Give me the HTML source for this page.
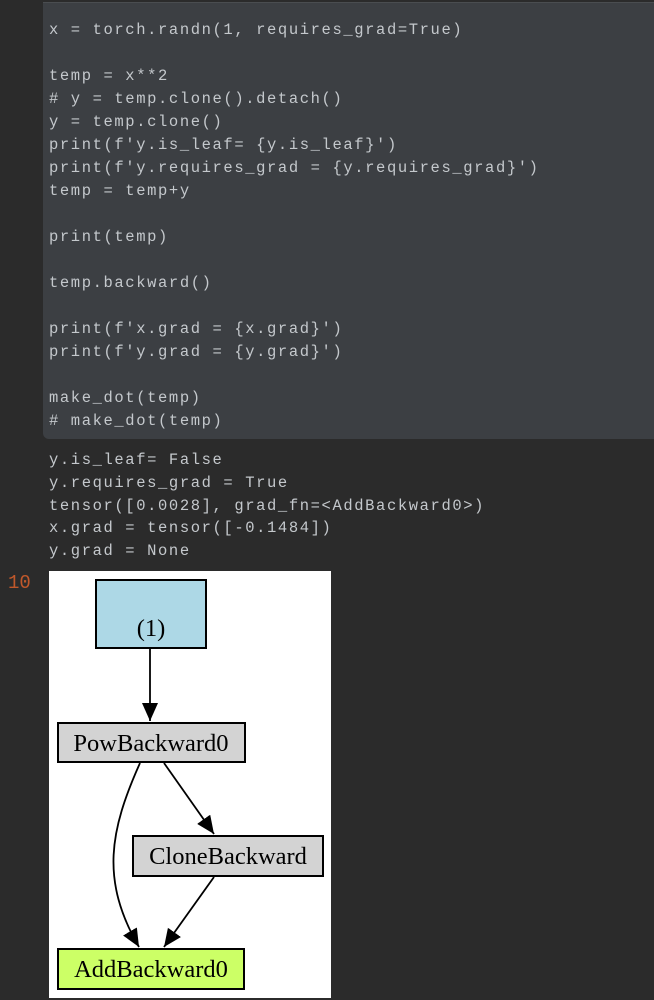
<!DOCTYPE html>
<html><head><style>
html,body{margin:0;padding:0;background:#2b2b2b;width:654px;height:1000px;overflow:hidden;position:relative}
.code{position:absolute;left:43px;top:2px;width:620px;height:436px;background:#3c3f43;border-radius:0 0 6px 6px;border-top:1px solid #4a4d50}
pre{margin:0;font-family:"Liberation Mono",monospace;font-size:15.5px;letter-spacing:1.6px;line-height:23px;color:#c4c8cc;position:absolute;left:49px}
.n{position:absolute;left:8px;top:572px;font-family:"Liberation Mono",monospace;font-size:19px;color:#c0582b}
</style></head><body>
<div class="code"></div>
<pre style="top:19px">x = torch.randn(1, requires_grad=True)

temp = x**2
# y = temp.clone().detach()
y = temp.clone()
print(f'y.is_leaf= {y.is_leaf}')
print(f'y.requires_grad = {y.requires_grad}')
temp = temp+y

print(temp)

temp.backward()

print(f'x.grad = {x.grad}')
print(f'y.grad = {y.grad}')

make_dot(temp)
# make_dot(temp)</pre>
<pre style="top:449px;line-height:22.8px">y.is_leaf= False
y.requires_grad = True
tensor([0.0028], grad_fn=&lt;AddBackward0&gt;)
x.grad = tensor([-0.1484])
y.grad = None</pre>
<div class="n">10</div>
<svg style="position:absolute;left:0;top:0" width="654" height="1000">
<defs><marker id="a" markerWidth="20" markerHeight="20" refX="18" refY="8" orient="auto" markerUnits="userSpaceOnUse"><path d="M0,0 L18,8 L0,16z" fill="#000"/></marker></defs>
<rect x="49" y="571" width="282" height="427" fill="#fff"/>
<g font-family="Liberation Serif,serif" font-size="24.5" text-anchor="middle" fill="#000">
<rect x="96" y="580" width="110" height="68" fill="#add8e6" stroke="#000" stroke-width="2"/>
<text x="151" y="636">(1)</text>
<rect x="58" y="723" width="187" height="39" fill="#d3d3d3" stroke="#000" stroke-width="2"/>
<text x="151" y="751">PowBackward0</text>
<rect x="133" y="836" width="190" height="40" fill="#d3d3d3" stroke="#000" stroke-width="2"/>
<text x="228" y="864">CloneBackward</text>
<rect x="58" y="949" width="186" height="40" fill="#ccff66" stroke="#000" stroke-width="2"/>
<text x="151" y="977">AddBackward0</text>
</g>
<g stroke="#000" stroke-width="1.8" fill="none" marker-end="url(#a)">
<line x1="150" y1="649" x2="150" y2="721"/>
<line x1="164" y1="763" x2="214" y2="834"/>
<path d="M140,763 C110,830 100,880 139,947"/>
<line x1="214" y1="877" x2="164" y2="947"/>
</g>
</svg>
</body></html>
